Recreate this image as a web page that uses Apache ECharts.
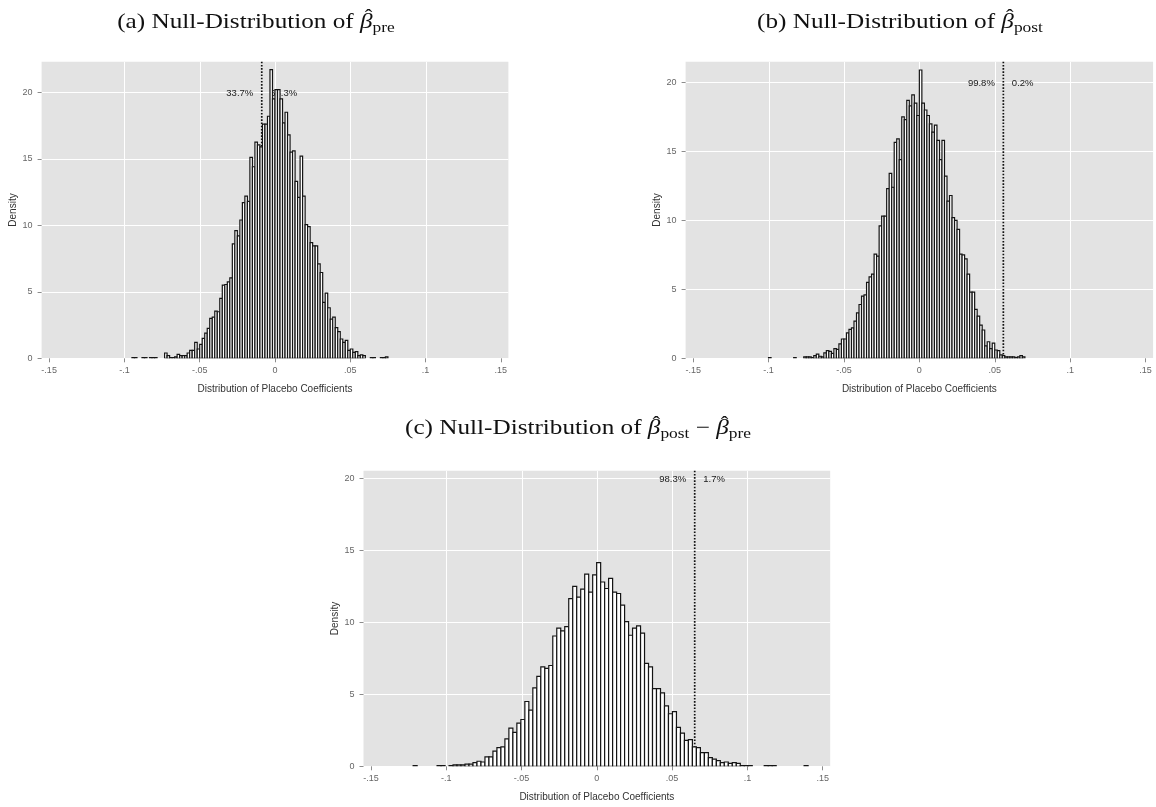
<!DOCTYPE html>
<html>
<head>
<meta charset="utf-8">
<script src="https://cdn.jsdelivr.net/npm/echarts@6/dist/echarts.min.js"></script>
<style>
  html, body { margin: 0; padding: 0; background: #ffffff; }
  #main { width: 1156px; height: 807px; }
</style>
</head>
<body>
<div id="main"></div>
<script>
// Placebo coefficient densities, one histogram per estimator.
// Each list holds the bar heights (density) of consecutive bins.
const binStartPre = -0.095;
const binWidthPre = 1 / 600;
const densityPre = [
  0.05, 0.05, 0, 0, 0.05, 0.05, 0, 0.05, 0.05, 0.05, 0, 0, 0,
  0.4, 0.2, 0.05, 0.05, 0.1, 0.3, 0.2, 0.2, 0.2, 0.4, 0.6, 0.6, 1.2, 0.7, 1.05,
  1.5, 1.9, 2.25, 3.0, 3.1, 3.55, 3.5, 4.5, 5.5, 5.55, 5.75, 6.05,
  8.6, 9.6, 9.2, 10.4, 11.7, 12.2, 11.8, 15.1, 14.4, 16.25, 16.05, 15.9, 17.6, 17.6, 18.2, 21.7, 19.5,
  20.2, 20.2, 19.5, 17.7, 18.5, 16.8, 15.5, 15.6, 13.3, 12.1, 15.2, 12.2, 10.05, 9.9, 8.7, 8.45, 8.45, 7.1, 6.45,
  4.2, 4.9, 3.8, 2.95, 3.1, 2.3, 2.0, 1.45, 1.2, 1.35, 0.6, 0.7, 0.45, 0.5, 0.2, 0.25, 0.2,
  0, 0, 0.05, 0.05, 0, 0, 0.05, 0.05, 0.1
];

const binStartPost = -0.1;
const binWidthPost = 1 / 600;
const densityPost = [
  0.05, 0, 0, 0, 0, 0, 0, 0, 0, 0, 0.05, 0, 0, 0,
  0.1, 0.1, 0.1, 0.05, 0.2, 0.3, 0.15, 0.1, 0.4, 0.55, 0.5, 0.35, 0.7, 0.65, 1.05, 1.4,
  1.4, 1.85, 2.1, 2.2, 2.7, 3.3, 3.9, 4.5, 4.6, 5.5, 5.9, 6.1, 7.55, 7.4, 9.6, 10.3,
  10.3, 12.3, 13.4, 12.4, 15.65, 15.9, 14.4, 17.5, 17.3, 18.7, 18.3, 19.1, 18.5, 17.6,
  20.9, 18.5, 18.0, 17.6, 17.0, 16.4, 16.9, 15.8, 14.4, 15.8, 13.2, 11.4, 11.8, 10.2,
  10.0, 9.35, 7.55, 7.5, 7.2, 6.1, 4.8, 4.8, 3.55, 3.05, 2.4, 2.05, 0.9, 1.2, 0.7, 1.1,
  0.6, 0.55, 0.25, 0.2, 0.1, 0.1, 0.1, 0.1, 0.05, 0.1, 0.2, 0.1
];

const binStartDiff = -0.122025;
const binWidthDiff = 0.00265;
const densityDiff = [
  0.05, 0, 0, 0, 0, 0, 0.05, 0.05, 0, 0.05, 0.1, 0.1, 0.1, 0.15, 0.15,
  0.25, 0.35, 0.3, 0.65, 0.65, 1.05, 1.3, 1.35, 1.9, 2.65, 2.35, 3.0, 3.25, 4.5, 3.9, 5.45,
  6.25, 6.9, 6.8, 7.0, 9.05, 9.6, 9.4, 9.7, 11.65, 12.5, 11.75, 12.3, 13.35, 12.1, 13.3, 14.15,
  12.8, 12.35, 13.05, 12.1, 12.0, 11.2, 10.05, 9.1, 9.6, 9.75, 9.25, 7.15, 6.9, 5.4, 5.4, 5.1,
  4.2, 3.65, 3.8, 2.7, 2.3, 1.8, 1.85, 1.35, 1.3, 0.95, 0.95, 0.6, 0.5, 0.4, 0.25, 0.3, 0.2, 0.25, 0.2,
  0.05, 0.05, 0.05, 0, 0, 0, 0.05, 0.05, 0.05, 0, 0, 0, 0, 0, 0, 0, 0.05
];

// Observed estimate (dotted line) and the share of placebo draws on each side
const cutoffs = [-0.0088, 0.0557, 0.065];
const shareBelow = ['33.7%', '99.8%', '98.3%'];
const shareAbove = ['66.3%', '0.2%', '1.7%'];
const shareLabelLevel = 20;

const xTickValues = [-0.15, -0.1, -0.05, 0, 0.05, 0.1, 0.15];
const xTickLabels = ['-.15', '-.1', '-.05', '0', '.05', '.1', '.15'];
const xGridValues = [-0.1, -0.05, 0, 0.05, 0.1];
const yTickValues = [0, 5, 10, 15, 20];
const yMaxima = [22.3, 21.5, 20.53];
const xRange = [-0.155, 0.155];

// Panel headings: [text, kind] with kind n = roman, b = hatted beta, s = subscript
const titleA = [['(a) Null-Distribution of ', 'n'], ['β', 'b'], ['pre', 's']];
const titleB = [['(b) Null-Distribution of ', 'n'], ['β', 'b'], ['post', 's']];
const titleC = [['(c) Null-Distribution of ', 'n'], ['β', 'b'], ['post', 's'], [' − ', 'n'], ['β', 'b'], ['pre', 's']];
const xAxisTitle = 'Distribution of Placebo Coefficients';
const yAxisTitle = 'Density';

// ---- layout ----
const grids = [
  { left: 41.6, top: 61.7, width: 466.8, height: 296.6 },
  { left: 685.6, top: 61.7, width: 467.5, height: 296.6 },
  { left: 363.5, top: 470.7, width: 466.7, height: 295.6 }
];
const yNameGaps = [23, 22, 19];
const titleSpots = [
  { x: 256, baseline: 28.3 },
  { x: 900, baseline: 28.3 },
  { x: 578, baseline: 435 }
];
const titleStretch = 1.2;

const sans = '"Liberation Sans", Arial, Helvetica, sans-serif';
const serifName = '"Liberation Serif", "Times New Roman", serif';
const titleFonts = {
  n: { size: 21, font: '21px ' + serifName, dy: 0 },
  b: { size: 21, font: 'italic 21px ' + serifName, dy: 0 },
  s: { size: 14.5, font: '14.5px ' + serifName, dy: 3.8 }
};

const histograms = [
  { start: binStartPre, width: binWidthPre, dens: densityPre },
  { start: binStartPost, width: binWidthPost, dens: densityPost },
  { start: binStartDiff, width: binWidthDiff, dens: densityDiff }
];

function binRows(h) {
  return h.dens.map((d, i) => [h.start + i * h.width, h.start + (i + 1) * h.width, d]);
}

function xLabel(value) {
  let best = 0;
  xTickValues.forEach((v, i) => {
    if (Math.abs(v - value) < Math.abs(xTickValues[best] - value)) best = i;
  });
  return xTickLabels[best];
}

// Heading built from measured text runs so the hat sits over the beta
const measureCtx = document.createElement('canvas').getContext('2d');
function runWidth(text, font) {
  measureCtx.font = font;
  return measureCtx.measureText(text).width;
}

function buildTitle(segments, spot) {
  const widths = segments.map(s => runWidth(s[0], titleFonts[s[1]].font));
  const total = widths.reduce((a, b) => a + b, 0);
  let x = -total / 2;
  const children = [];
  segments.forEach((s, i) => {
    const f = titleFonts[s[1]];
    children.push({
      type: 'text',
      style: {
        text: s[0], x: x, y: f.dy - 0.3 * f.size,
        font: f.font, fill: '#111111',
        align: 'left', verticalAlign: 'middle'
      }
    });
    if (s[1] === 'b') {
      children.push({
        type: 'text',
        style: {
          text: 'ˆ', x: x + widths[i] / 2 + 1.8, y: -0.3 * f.size - 4.8,
          font: '19px ' + serifName, fill: '#111111',
          align: 'center', verticalAlign: 'middle'
        }
      });
    }
    x += widths[i];
  });
  return {
    type: 'group',
    x: spot.x, y: spot.baseline,
    scaleX: titleStretch, scaleY: 1,
    silent: true,
    children: children
  };
}

function renderGridLine(params, api) {
  const cs = params.coordSys;
  const x = Math.round(api.coord([api.value(0), 0])[0]) + 0.5;
  return {
    type: 'line',
    shape: { x1: x, y1: cs.y, x2: x, y2: cs.y + cs.height },
    style: { stroke: '#ffffff', lineWidth: 1 }
  };
}

function makeCutoffRenderer(idx) {
  return function (params, api) {
    const cs = params.coordSys;
    const p = api.coord([api.value(0), api.value(1)]);
    const x = p[0];
    return {
      type: 'group',
      children: [
        {
          type: 'line',
          shape: { x1: x, y1: cs.y, x2: x, y2: cs.y + cs.height },
          style: { stroke: '#111111', lineWidth: 1.7, lineDash: [1.6, 1.6] }
        },
        {
          type: 'text',
          style: {
            text: shareBelow[idx], x: x - 8.5, y: p[1] + 1,
            align: 'right', verticalAlign: 'middle',
            fill: '#1a1a1a', font: '9.5px ' + sans
          }
        },
        {
          type: 'text',
          style: {
            text: shareAbove[idx], x: x + 8.5, y: p[1] + 1,
            align: 'left', verticalAlign: 'middle',
            fill: '#1a1a1a', font: '9.5px ' + sans
          }
        }
      ]
    };
  };
}

function renderBar(params, api) {
  const h = api.value(2);
  if (!(h > 0)) return null;
  const p0 = api.coord([api.value(0), h]);
  const p1 = api.coord([api.value(1), 0]);
  return {
    type: 'rect',
    shape: { x: p0[0], y: p0[1], width: p1[0] - p0[0], height: p1[1] - p0[1] },
    style: { fill: '#ffffff', stroke: '#141414', lineWidth: 1.2 }
  };
}

const option = {
  backgroundColor: '#ffffff',
  animation: false,
  graphic: [
    buildTitle(titleA, titleSpots[0]),
    buildTitle(titleB, titleSpots[1]),
    buildTitle(titleC, titleSpots[2])
  ],
  grid: grids.map(g => Object.assign({
    show: true, backgroundColor: '#e3e3e3', borderWidth: 0, containLabel: false
  }, g)),
  xAxis: grids.map((g, i) => ({
    type: 'value',
    gridIndex: i,
    min: xRange[0],
    max: xRange[1],
    axisLine: { show: false, onZero: false },
    splitLine: { show: false },
    axisTick: {
      show: true, length: 4, customValues: xTickValues,
      lineStyle: { color: '#8c8c8c', width: 1 }
    },
    axisLabel: {
      customValues: xTickValues, formatter: xLabel,
      color: '#666666', fontSize: 9, fontFamily: sans, margin: 8
    },
    name: xAxisTitle,
    nameLocation: 'middle',
    nameGap: 26,
    nameTextStyle: { color: '#333333', fontSize: 10, fontFamily: sans }
  })),
  yAxis: grids.map((g, i) => ({
    type: 'value',
    gridIndex: i,
    min: 0,
    max: yMaxima[i],
    axisLine: { show: false, onZero: false },
    axisTick: {
      show: true, length: 4, customValues: yTickValues,
      lineStyle: { color: '#8c8c8c', width: 1 }
    },
    axisLabel: {
      customValues: yTickValues,
      color: '#666666', fontSize: 9, fontFamily: sans, margin: 9
    },
    splitLine: { show: true, lineStyle: { color: '#ffffff', width: 1 } },
    name: yAxisTitle,
    nameLocation: 'middle',
    nameRotate: 90,
    nameGap: yNameGaps[i],
    nameTextStyle: { color: '#333333', fontSize: 10, fontFamily: sans }
  })),
  series: []
};

histograms.forEach((h, i) => {
  option.series.push({
    type: 'custom',
    xAxisIndex: i, yAxisIndex: i,
    z: 1, silent: true, clip: true,
    renderItem: renderGridLine,
    encode: { x: 0, y: 1 },
    data: xGridValues.map(v => [v, 0])
  });
  option.series.push({
    type: 'custom',
    xAxisIndex: i, yAxisIndex: i,
    z: 2, silent: true,
    renderItem: makeCutoffRenderer(i),
    encode: { x: 0, y: 1 },
    data: [[cutoffs[i], shareLabelLevel]]
  });
  option.series.push({
    type: 'custom',
    xAxisIndex: i, yAxisIndex: i,
    z: 3, silent: true, clip: true,
    renderItem: renderBar,
    encode: { x: [0, 1], y: 2 },
    data: binRows(h)
  });
});

const chart = echarts.init(document.getElementById('main'), null, { renderer: 'canvas' });
chart.setOption(option);
</script>
</body>
</html>
